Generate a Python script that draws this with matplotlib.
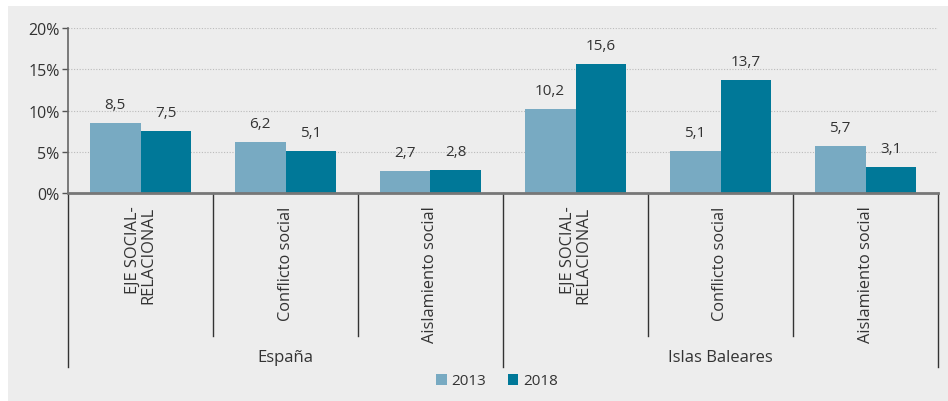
import matplotlib
matplotlib.use("Agg")
import matplotlib.pyplot as plt
from matplotlib.patches import Rectangle, Patch
import numpy as np

plt.rcParams['font.family'] = ['Open Sans', 'DejaVu Sans']

categories = ["EJE SOCIAL-\nRELACIONAL", "Conflicto social", "Aislamiento social",
              "EJE SOCIAL-\nRELACIONAL", "Conflicto social", "Aislamiento social"]
groups = ["España", "Islas Baleares"]
series_names = ["2013", "2018"]
values_2013 = [8.5, 6.2, 2.7, 10.2, 5.1, 5.7]
values_2018 = [7.5, 5.1, 2.8, 15.6, 13.7, 3.1]
yticks = [0, 5, 10, 15, 20]
ytick_labels = ["0%", "5%", "10%", "15%", "20%"]

c2013 = "#78AAC2"
c2018 = "#007898"
bg = "#EDEDED"
txt = "#333333"

W, H = 948, 402
fig = plt.figure(figsize=(W/100, H/100), dpi=100, facecolor="white")
fig.patches.append(Rectangle((8/W, 0), 1 - 8/W, 1 - 7/H, transform=fig.transFigure,
                             facecolor=bg, edgecolor="none", zorder=-10))

left, right = 68/W, 938/W
bottom, top = 1 - 194/H, 1 - 29/H
ax = fig.add_axes([left, bottom, right - left, top - bottom])
ax.set_facecolor(bg)

n = len(categories)
x = np.arange(n)
bw = 0.35
b1 = ax.bar(x - bw/2, values_2013, bw, color=c2013, label=series_names[0], zorder=3)
b2 = ax.bar(x + bw/2, values_2018, bw, color=c2018, label=series_names[1], zorder=3)

for bars, vals in ((b1, values_2013), (b2, values_2018)):
    for r, v in zip(bars, vals):
        ax.annotate(f"{v:.1f}".replace(".", ","), (r.get_x() + r.get_width()/2, v),
                    xytext=(0, 8), textcoords="offset points", ha="center", va="bottom",
                    fontsize=11, color=txt)

ax.set_xlim(-0.5, n - 0.5)
ax.set_ylim(0, 20)
ax.set_yticks(yticks)
ax.set_yticklabels(ytick_labels, fontsize=11.5, color=txt)
ax.tick_params(axis="y", length=4, width=1, color="#555555", pad=2)
ax.set_xticks([])
for y in yticks[1:]:
    ax.axhline(y, color="#BBBBBB", lw=0.8, ls=(0, (1, 1.5)), zorder=1)

for s in ("top", "right"):
    ax.spines[s].set_visible(False)
ax.spines["left"].set_color("#666666")
ax.spines["left"].set_linewidth(1.2)
ax.spines["bottom"].set_color("#777777")
ax.spines["bottom"].set_linewidth(2)
ax.spines["bottom"].set_zorder(4)

trans = ax.get_xaxis_transform()
for k in range(n + 1):
    xb = k - 0.5
    yb = -1.055 if k % 3 == 0 else -0.867
    ax.plot([xb, xb], [0, yb], transform=trans, color="#333333", lw=1, clip_on=False)

for i, c in enumerate(categories):
    ax.text(x[i], -0.075, c, transform=trans, rotation=90, ha="center", va="top",
            fontsize=11.8, color=txt, multialignment="right", linespacing=1.0)

for g, gname in enumerate(groups):
    ax.text(g*3 + 1, -0.995, gname, transform=trans, ha="center", va="center",
            fontsize=12, color=txt)

handles = [Patch(facecolor=c2013), Patch(facecolor=c2018)]
fig.legend(handles, series_names, loc="center", bbox_to_anchor=(497/W, 1 - 382/H),
           ncol=2, frameon=False, fontsize=11, handlelength=0.7, handleheight=0.7,
           handletextpad=0.3, columnspacing=1.4, labelcolor=txt)

fig.savefig("out.png", dpi=100, facecolor=fig.get_facecolor())
